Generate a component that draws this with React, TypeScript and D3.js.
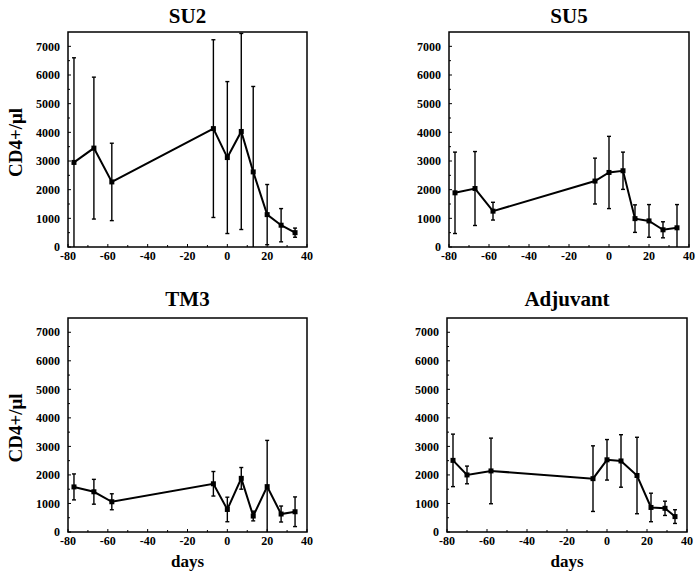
import React from "react";
import * as d3 from "d3";

// ---- data ----
const titles = ["SU2", "SU5", "TM3", "Adjuvant"];

const daysSU2 = [-77, -67, -58, -7, 0, 7, 13, 20, 27, 34];
const meanSU2 = [2950, 3450, 2270, 4130, 3120, 4030, 2620, 1130, 760, 500];
const sdSU2 = [3650, 2475, 1350, 3100, 2650, 3420, 2980, 1050, 580, 160];

const daysSU5 = [-77, -67, -58, -7, 0, 7, 13, 20, 27, 34];
const meanSU5 = [1890, 2040, 1250, 2300, 2600, 2660, 990, 910, 600, 670];
const sdSU5 = [1420, 1290, 310, 800, 1260, 650, 480, 570, 280, 810];

const daysTM3 = [-77, -67, -58, -7, 0, 7, 13, 20, 27, 34];
const meanTM3 = [1580, 1410, 1060, 1690, 790, 1880, 560, 1590, 630, 710];
const sdTM3 = [455, 435, 280, 430, 430, 380, 170, 1620, 280, 520];

const daysAdj = [-77, -70, -58, -7, 0, 7, 15, 22, 29, 34];
const meanAdj = [2510, 2000, 2140, 1870, 2530, 2490, 1980, 860, 830, 540];
const sdAdj = [920, 310, 1150, 1150, 710, 920, 1340, 500, 250, 240];

const xTicks = [-80, -60, -40, -20, 0, 20, 40];
const yTicks = [0, 1000, 2000, 3000, 4000, 5000, 6000, 7000];
const yLabel = "CD4+/\u03bcl";
const xLabel = "days";

const seriesDays = [daysSU2, daysSU5, daysTM3, daysAdj];
const seriesMean = [meanSU2, meanSU5, meanTM3, meanAdj];
const seriesSd = [sdSU2, sdSU5, sdTM3, sdAdj];

// ---- layout ----
const frames = [
  { x0: 68, x1: 307, y0: 32, y1: 247 },
  { x0: 449, x1: 689, y0: 32, y1: 247 },
  { x0: 68, x1: 307, y0: 318, y1: 532 },
  { x0: 447, x1: 687, y0: 318, y1: 532 },
];
const FONT = "'Liberation Serif', 'Times New Roman', serif";

function Panel({ i }: { i: number }) {
  const f = frames[i];
  const x = d3.scaleLinear().domain([-80, 40]).range([f.x0, f.x1]);
  const y = d3.scaleLinear().domain([0, 7500]).range([f.y1, f.y0]);
  const days = seriesDays[i];
  const mean = seriesMean[i];
  const sd = seriesSd[i];
  const pts = days.map((d, k) => [d, mean[k]] as [number, number]);
  const line = d3
    .line<[number, number]>()
    .x((p) => x(p[0]))
    .y((p) => y(p[1]));
  const minorX = d3.range(-70, 40, 20);
  const minorY = d3.range(500, 7500, 1000);
  const isLeft = i % 2 === 0;
  const isBottom = i >= 2;
  const cx = (f.x0 + f.x1) / 2;
  const cy = (f.y0 + f.y1) / 2;
  return (
    <g>
      <text
        x={cx}
        y={f.y0 - (isBottom ? 12 : 9)}
        textAnchor="middle"
        fontFamily={FONT}
        fontWeight="bold"
        fontSize={21}
      >
        {titles[i]}
      </text>
      {/* error bars */}
      {days.map((d, k) => {
        const hi = mean[k] + sd[k];
        const lo = mean[k] - sd[k];
        const hiC = Math.min(hi, 7500);
        const loC = Math.max(lo, 0);
        const px = x(d);
        return (
          <g key={"e" + k} stroke="#000" strokeWidth={1.4}>
            <line x1={px} x2={px} y1={y(hiC)} y2={y(loC)} />
            {hi <= 7500 && <line x1={px - 2} x2={px + 2} y1={y(hi)} y2={y(hi)} />}
            {lo >= 0 && <line x1={px - 2} x2={px + 2} y1={y(lo)} y2={y(lo)} />}
          </g>
        );
      })}
      <path d={line(pts) || ""} fill="none" stroke="#000" strokeWidth={2} strokeLinejoin="miter" />
      {pts.map((p, k) => (
        <rect key={"m" + k} x={x(p[0]) - 2.5} y={y(p[1]) - 2.5} width={5} height={5} fill="#000" />
      ))}
      {/* frame */}
      <rect
        x={f.x0}
        y={f.y0}
        width={f.x1 - f.x0}
        height={f.y1 - f.y0}
        fill="none"
        stroke="#000"
        strokeWidth={1.5}
      />
      {/* x ticks */}
      {xTicks.map((t) => (
        <g key={"xt" + t}>
          <line x1={x(t)} x2={x(t)} y1={f.y1} y2={f.y1 - 3} stroke="#000" strokeWidth={1} />
          <text
            x={x(t)}
            y={f.y1 + 13}
            textAnchor="middle"
            fontFamily={FONT}
            fontWeight="bold"
            fontSize={12}
          >
            {t}
          </text>
        </g>
      ))}
      {minorX.map((t) => (
        <line key={"xm" + t} x1={x(t)} x2={x(t)} y1={f.y1} y2={f.y1 - 2} stroke="#000" strokeWidth={1} />
      ))}
      {/* y ticks */}
      {yTicks.map((t) => (
        <g key={"yt" + t}>
          <line x1={f.x0} x2={f.x0 + 3} y1={y(t)} y2={y(t)} stroke="#000" strokeWidth={1} />
          <text
            x={f.x0 - 8}
            y={y(t)}
            dy="0.35em"
            textAnchor="end"
            fontFamily={FONT}
            fontWeight="bold"
            fontSize={12}
          >
            {t}
          </text>
        </g>
      ))}
      {minorY.map((t) => (
        <line key={"ym" + t} x1={f.x0} x2={f.x0 + 2} y1={y(t)} y2={y(t)} stroke="#000" strokeWidth={1} />
      ))}
      {isLeft && (
        <text
          transform={`translate(22,${cy + 3}) rotate(-90)`}
          textAnchor="middle"
          fontFamily={FONT}
          fontWeight="bold"
          fontSize={19}
        >
          {yLabel}
        </text>
      )}
      {isBottom && (
        <text x={cx} y={567} textAnchor="middle" fontFamily={FONT} fontWeight="bold" fontSize={17}>
          {xLabel}
        </text>
      )}
    </g>
  );
}

export default function App() {
  return (
    <svg
      width={699}
      height={578}
      style={{ position: "absolute", left: 0, top: 0, background: "#fff" }}
    >
      <rect width={699} height={578} fill="#fff" />
      {titles.map((_, i) => (
        <Panel key={i} i={i} />
      ))}
    </svg>
  );
}
